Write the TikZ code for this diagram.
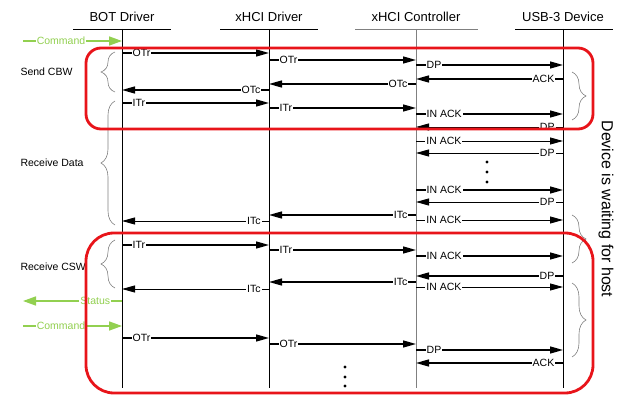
\documentclass[tikz,border=0pt]{standalone}
\usepackage{fontspec}
\setmainfont{Liberation Sans}
\usepackage{xcolor}
\usetikzlibrary{arrows.meta, decorations.pathreplacing, positioning}

\definecolor{boxred}{RGB}{232,20,26}
\definecolor{cmdgreen}{RGB}{146,208,80}

\begin{document}
\begin{tikzpicture}[
    x=1pt, y=-1pt,
    head/.style={font=\fontsize{13}{15}\selectfont},
    hline/.style={line width=0.7pt},
    life/.style={line width=0.7pt},
    msg/.style={-{Triangle[length=13pt,width=7pt]}, line width=1.4pt},
    thinmsg/.style={msg, line width=0.9pt},
    cmd/.style={-{Triangle[length=13pt,width=9pt]}, line width=1.6pt, cmdgreen},
    lbl/.style={font=\fontsize{10.5}{12}\selectfont, fill=white, inner sep=1pt},
    fwd/.style={lbl, at start, anchor=west, xshift=9pt},
    bwd/.style={lbl, at start, anchor=east, xshift=-7pt},
    redbox/.style={draw=boxred, line width=2.8pt},
    grp/.style={decorate, decoration={brace, amplitude=14pt}, gray, line width=0.6pt},
    phase/.style={font=\fontsize{10.5}{12}\selectfont, anchor=west}
]
  \useasboundingbox (0,0) rectangle (625,412);

  % Lifelines
  \node[head] (bot) at (122,17) {BOT Driver};
  \node[head] (xd) at (269,17) {xHCI Driver};
  \node[head] (xc) at (416,17) {xHCI Controller};
  \node[head] (dev) at (563,17) {USB-3 Device};
  \coordinate (ext) at (23,0);

  \draw[hline] (73,29) -- (171,29);
  \draw[hline] (220,29) -- (318,29);
  \draw[hline, gray] (355,29) -- (478,29);
  \draw[hline] (515,29) -- (613,29);

  \draw[life] (bot |- 0,29) -- (bot |- 0,388);
  \draw[life] (xd |- 0,29) -- (xd |- 0,388);
  \draw[life, gray] (xc |- 0,29) -- (xc |- 0,388);
  \draw[life] (dev |- 0,29) -- (dev |- 0,388);

  % Send CBW
  \draw[cmd] (ext |- 0,41) -- (bot |- 0,41) node[fwd, text=cmdgreen, xshift=3pt] {Command};
  \draw[msg] (bot |- 0,53) -- (xd |- 0,53) node[fwd] {OTr};
  \draw[msg] (xd |- 0,60) -- (xc |- 0,60) node[fwd] {OTr};
  \draw[msg] (xc |- 0,65) -- (dev |- 0,65) node[fwd] {DP};
  \draw[msg] (dev |- 0,79) -- (xc |- 0,79) node[bwd] {ACK};
  \draw[msg] (xc |- 0,84) -- (xd |- 0,84) node[bwd] {OTc};
  \draw[msg] (xd |- 0,90) -- (bot |- 0,90) node[bwd] {OTc};

  % Receive Data
  \draw[msg] (bot |- 0,103) -- (xd |- 0,103) node[fwd] {ITr};
  \draw[msg] (xd |- 0,108) -- (xc |- 0,108) node[fwd] {ITr};
  \draw[msg] (xc |- 0,114) -- (dev |- 0,114) node[fwd] {IN ACK};
  \draw[thinmsg] (dev |- 0,127) -- (xc |- 0,127) node[bwd] {DP};
  \draw[thinmsg] (xc |- 0,141) -- (dev |- 0,141) node[fwd] {IN ACK};
  \draw[thinmsg] (dev |- 0,153) -- (xc |- 0,153) node[bwd] {DP};
  \fill (487,162) circle (1.7) (487,172) circle (1.7) (487,182) circle (1.7);
  \draw[msg] (xc |- 0,190) -- (dev |- 0,190) node[fwd] {IN ACK};
  \draw[thinmsg] (dev |- 0,202) -- (xc |- 0,202) node[bwd] {DP};
  \draw[msg] (xc |- 0,215) -- (xd |- 0,215) node[bwd] {ITc};
  \draw[thinmsg] (xc |- 0,220) -- (dev |- 0,220) node[fwd] {IN ACK};
  \draw[thinmsg] (xd |- 0,221) -- (bot |- 0,221) node[bwd] {ITc};

  % Receive CSW
  \draw[msg] (bot |- 0,245) -- (xd |- 0,245) node[fwd] {ITr};
  \draw[msg] (xd |- 0,250) -- (xc |- 0,250) node[fwd] {ITr};
  \draw[msg] (xc |- 0,256) -- (dev |- 0,256) node[fwd] {IN ACK};
  \draw[msg] (dev |- 0,276) -- (xc |- 0,276) node[bwd] {DP};
  \draw[msg] (xc |- 0,282) -- (xd |- 0,282) node[bwd] {ITc};
  \draw[thinmsg] (xc |- 0,287) -- (dev |- 0,287) node[fwd] {IN ACK};
  \draw[thinmsg] (xd |- 0,289) -- (bot |- 0,289) node[bwd] {ITc};
  \draw[cmd] (bot |- 0,301) -- (ext |- 0,301) node[bwd, text=cmdgreen, xshift=-3pt] {Status};

  % Next command
  \draw[cmd] (ext |- 0,326) -- (bot |- 0,326) node[fwd, text=cmdgreen, xshift=3pt] {Command};
  \draw[msg] (bot |- 0,338) -- (xd |- 0,338) node[fwd] {OTr};
  \draw[msg] (xd |- 0,344) -- (xc |- 0,344) node[fwd] {OTr};
  \draw[msg] (xc |- 0,350) -- (dev |- 0,350) node[fwd] {DP};
  \draw[msg] (dev |- 0,363) -- (xc |- 0,363) node[bwd] {ACK};
  \fill (345,367) circle (1.7) (345,377) circle (1.7) (345,386) circle (1.7);

  % Phases
  \node[phase] (cbw) at (17,72) {Send CBW};
  \node[phase] (data) at (17,163) {Receive Data};
  \node[phase] (csw) at (17,267) {Receive CSW};
  \draw[grp] (115,92) -- (115,52);
  \draw[grp] (115,225) -- (115,101);
  \draw[grp] (115,288) -- (115,240);

  \draw[grp] (572,72) -- (572,120);
  \draw[grp] (572,215) -- (572,263);
  \draw[grp] (572,283) -- (572,357);
  \node[rotate=-90, font=\fontsize{16}{18}\selectfont] (wait) at (606,209) {Device is waiting for host};

  % Highlight boxes
  \draw[redbox, rounded corners=15pt] (86,48) rectangle (593,129);
  \draw[redbox, rounded corners=28pt] (86,233) rectangle (593,393);
\end{tikzpicture}
\end{document}
